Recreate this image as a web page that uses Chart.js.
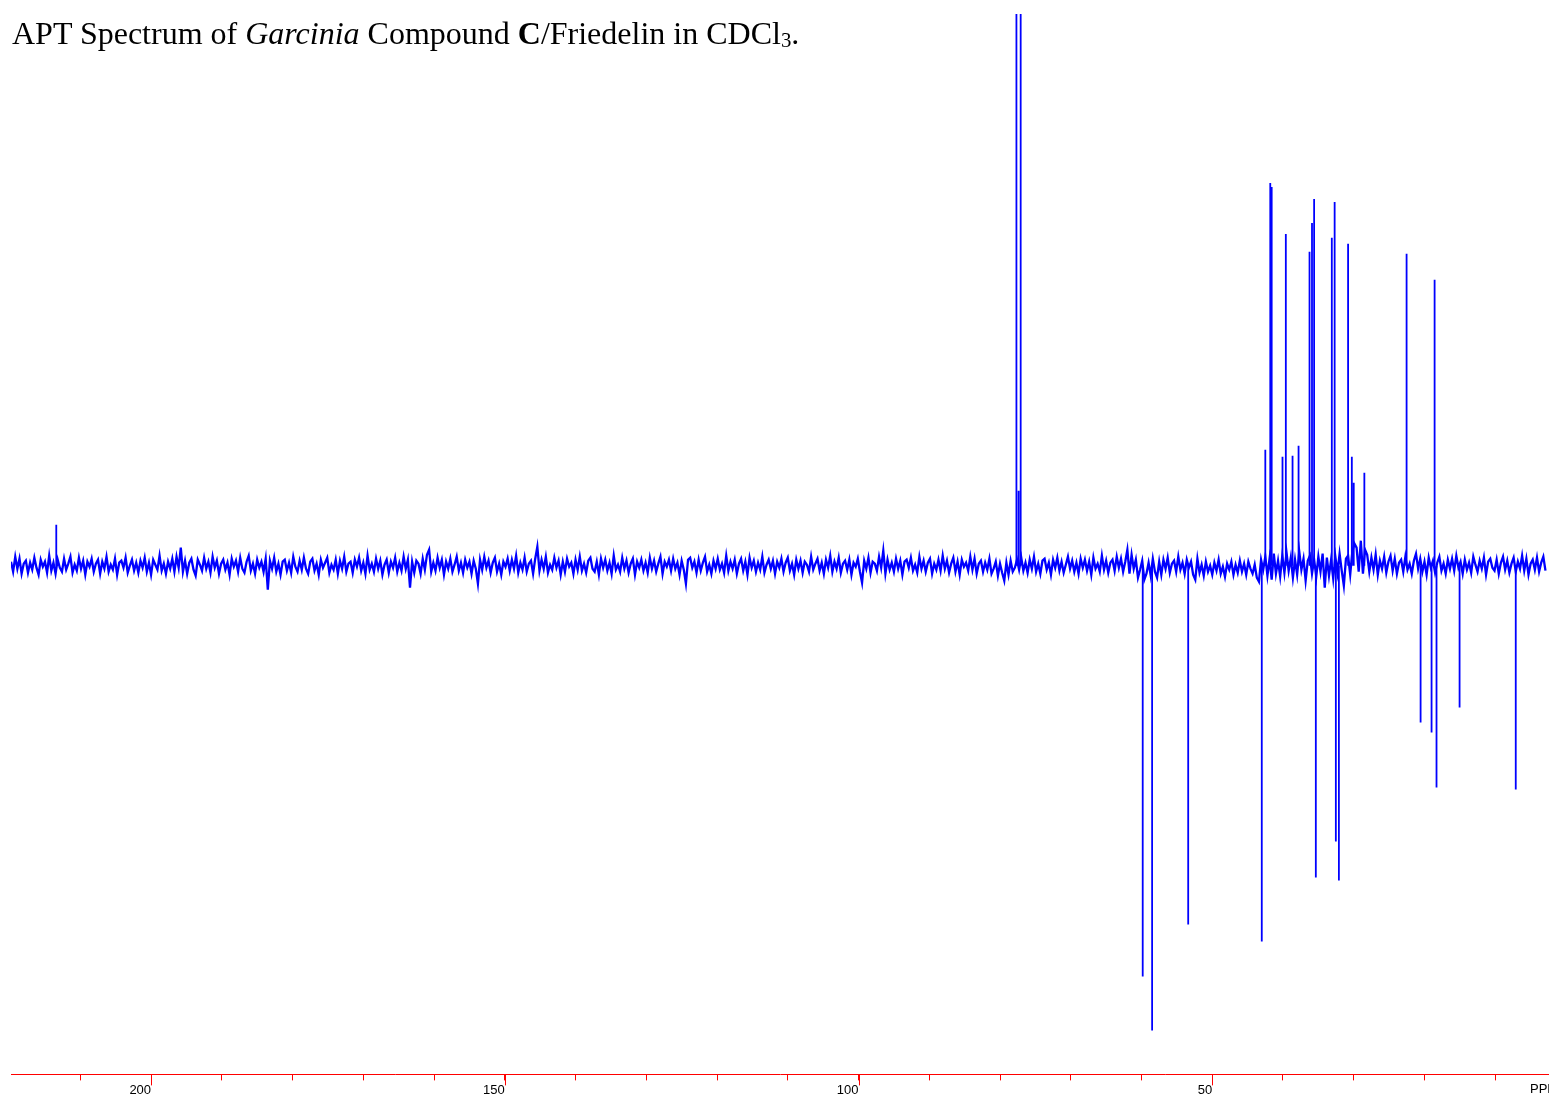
<!DOCTYPE html>
<html lang="en">
<head>
  <meta charset="UTF-8">
  <title>APT Spectrum of Garcinia Compound C/Friedelin in CDCl3</title>
  <script src="https://cdn.jsdelivr.net/npm/chart.js"></script>
  <style>
    body {
      margin: 0;
      background: #fff;
    }
    .wrap {
      position: relative;
      width: 1549px;
      height: 1100px;
    }
    canvas {
      position: absolute;
      left: 0;
      top: 0;
    }
    .title {
      position: absolute;
      left: 12px;
      top: 17px;
      font-family: 'Liberation Serif', 'Times New Roman', serif;
      font-size: 32px;
      line-height: 32px;
      color: #000;
      white-space: nowrap;
    }
    .title sub {
      font-size: 0.65em;
      vertical-align: -0.15em;
      line-height: 0;
    }
  </style>
</head>
<body>

  <div class="wrap">
    <canvas id="aptChart" width="1549" height="1100"></canvas>
    <div class="title">APT Spectrum of <i>Garcinia</i> Compound <b>C</b>/Friedelin in CDCl<sub>3</sub>.</div>
  </div>

  <script>
    // ppm scale (reversed)
    const ppmMin = 2.4;
    const ppmMax = 219.8;
    const tickLabels = [200, 150, 100, 50];

    // positive signals: C, CH2 and the CDCl3 triplet (runs off the top)
    const upPpm    = [213.4, 77.68, 77.37, 77.08, 42.5, 41.8, 41.6, 40.07, 39.6, 38.65, 37.8,
                      36.25, 35.9, 35.6, 33.1, 32.7, 30.8, 30.27, 30.0, 28.5, 22.53, 18.57];
    const upHeight = [41, 1600, 75, 1600, 116, 383, 379, 109, 332, 110, 120,
                      314, 343, 367, 328, 364, 322, 109, 83, 93, 312, 286];

    // negative signals: CH and CH3
    const downPpm    = [59.83, 58.5, 53.4, 43.0, 35.36, 32.53, 32.1, 20.55, 19.0, 18.3, 15.04, 7.1];
    const downHeight = [-411, -465, -359, -376, -312, -276, -315, -157, -167, -222, -142, -224];

    // baseline noise, one value every 0.3 ppm starting at 219.8 ppm
    const noiseStart = 219.8;
    const noiseStep = 0.3;
    const noise = [
      4, -6, 9, -3, 7, -8, 2, 5, -7, 3, -4, 8, -2, -9, 6, -1, 4, -7, 10, -5,
      3, -8, 6, -2, -6, 7, -4, 2, 9, -7, 1, -5, 8, -3, 5, -9, 4, -1, 7, -6,
      2, 6, -8, 4, -3, 9, -6, 1, -4, 7, -9, 3, 5, -2, 8, -7, 0, 6, -5, 3,
      -7, 5, -2, 8, -6, 3, -9, 6, 1, -4, 10, -5, 2, -8, 4, -3, 7, -6, 9, -2,
      18, -6, 5, -8, 3, 7, -4, -10, 6, 1, -5, 8, -3, 4, -7, 9, -2, 5, -8, 2,
      6, -4, 3, -9, 7, -1, 5, -6, 8, -3, -7, 4, 10, -5, 2, -8, 6, -2, 4, -6,
      7, -24, 5, -3, 8, -6, 2, -9, 4, 6, -5, 3, -7, 9, -1, -6, 5, -4, 8, -3,
      -8, 4, 7, -5, 2, -9, 6, -2, 3, 8, -7, 1, -4, 6, -8, 5, -3, 9, -6, 2,
      4, -7, 6, -1, 8, -5, 3, -8, 10, -4, 2, -6, 7, -3, 5, -9, 1, 6, -7, 4,
      -2, 8, -6, 3, -5, 9, -3, 6, -22, 4, -7, 5, 2, -8, 7, -4, 11, 16, -6, 3,
      -5, 8, -2, 6, -9, 4, -3, 7, -6, 1, 9, -5, 3, -7, 6, -2, 4, -8, 5, -3,
      -18, 6, -4, 9, -2, 5, -7, 3, 8, -6, 2, -9, 4, -1, 7, -5, 6, -3, 10, -7,
      3, -4, 8, -6, 2, 5, -8, 7, 19, -5, 6, -3, 9, -7, 1, -4, 8, -2, 5, -9,
      4, -6, 7, -1, 3, -8, 6, -4, 9, -5, 2, -7, 5, 8, -3, -6, 4, -9, 7, -2,
      6, -5, 3, -8, 10, -4, 1, -6, 8, -3, 5, -7, 2, 7, -9, 4, -2, 6, -5, 3,
      -7, 8, -3, 5, -6, 2, 9, -8, 4, -1, 6, -5, 7, -3, 3, -9, 5, -4, -18, 6,
      8, -2, 4, -7, 6, -5, 3, 9, -6, 1, -8, 5, -3, 7, -4, 2, -7, 10, -5, 4,
      -3, 6, -8, 2, 7, -5, 4, -9, 8, -2, 5, -6, 3, -4, 9, -7, 1, 6, -3, 5,
      -8, 4, -2, 7, -6, 3, 8, -5, 2, -9, 6, -3, 5, -7, 4, 1, -6, 9, -4, 2,
      7, -5, 3, -8, 6, -2, 10, -6, 4, -3, 8, -7, 2, 5, -4, 6, -9, 3, -1, 7,
      -6, -17, 5, -3, 8, -7, 4, 2, -5, 9, -2, 15, -8, 6, -4, 3, -6, 7, -3, 5,
      -9, 4, 6, -2, 8, -5, 1, -7, 9, -3, 5, -6, 3, 7, -8, 2, -4, 6, -5, 10,
      -3, 5, -7, 2, 8, -6, 4, -9, 6, -1, 3, -5, 9, -4, 7, -8, 2, 5, -6, 3,
      -4, 7, -8, -3, 4, -10, 2, -7, -15, 3, -9, 5, -6, -2, 6, -4, 8, -5, 3, -7,
      6, -3, 9, -6, 2, -8, 5, 7, -4, 3, -9, 6, -2, 8, -5, 4, -7, 1, 9, -3,
      5, -6, 3, -8, 7, -2, 6, -5, 4, -9, 8, -3, 2, -6, 10, -4, 5, -7, 3, 6,
      -5, 9, -2, 7, -6, 4, 16, -8, 11, -3, 6, -12, -4, 5, -14, -8, 3, -10, 7, -6,
      -12, 4, -9, 6, -3, 8, -7, 2, 5, -6, 9, -4, 3, -8, 6, -2, 4, -9, -14, 7,
      -7, 1, -10, 4, -6, 0, -9, 3, -5, 6, -8, -1, -11, 2, -4, 4, -9, 1, -7, 5,
      -6, 2, -9, 4, -3, -8, 1, -12, -16, 6, -4, 9, -10, 7, -14, 12, -8, 5, -11, 10,
      -7, 13, -5, 8, -12, 6, -9, 14, -4, 7, -15, 5, 10, -8, 6, -11, 9, -6, 12, -22,
      8, -10, 6, -13, 9, -7, 12, -5, -20, 7, 10, -9, 14, 22, 18, -6, 25, -8, 16, 11,
      -6, 8, -4, 11, -9, 5, -3, 9, -7, 4, 10, -5, 7, -8, 3, 6, -6, 9, -4, 2,
      -8, 5, 12, -3, 7, -6, 4, -9, 8, -2, 5, -7, 3, 9, -5, 2, -8, 6, -3, 7,
      -5, 10, -2, 4, -8, 6, -4, 3, -7, 9, 1, -6, 5, -3, 8, -9, 4, 7, -2, -5,
      6, -8, 3, 9, -4, 5, -7, 2, 8, -6, 4, -3, 10, -5, 7, -9, 2, 6, -4, 8,
      -6, 3, 9, -5
    ];

    // build the line data from the arrays above
    const noisePoints = noise.map((v, i) => ({ x: noiseStart - i * noiseStep, y: v }));

    function sticks(ppm, height) {
      const pts = [];
      ppm.forEach((p, i) => {
        pts.push({ x: p, y: 0 }, { x: p, y: height[i] }, { x: p, y: null });
      });
      return pts;
    }

    // longer red ticks at the labelled positions, plus the unit label
    const axisExtras = {
      id: 'axisExtras',
      afterDraw(chart) {
        const { ctx, chartArea, scales } = chart;
        const x = scales.x;
        ctx.save();
        ctx.strokeStyle = '#ff0000';
        ctx.lineWidth = 1;
        tickLabels.forEach(v => {
          const px = Math.round(x.getPixelForValue(v)) + 0.5;
          ctx.beginPath();
          ctx.moveTo(px, chartArea.bottom);
          ctx.lineTo(px, chartArea.bottom + 11);
          ctx.stroke();
        });
        ctx.fillStyle = '#000';
        ctx.font = '13px "Liberation Sans", Arial, sans-serif';
        ctx.textBaseline = 'middle';
        ctx.textAlign = 'left';
        ctx.fillText('PPM', chartArea.right - 19, chartArea.bottom + 8 + 7.5);
        ctx.restore();
      }
    };

    const ctx = document.getElementById('aptChart').getContext('2d');
    const aptChart = new Chart(ctx, {
      type: 'line',
      data: {
        datasets: [{
          label: 'noise',
          data: noisePoints,
          borderColor: '#0000ff',
          borderWidth: 2.3,
          pointRadius: 0,
          tension: 0
        }, {
          label: 'positive',
          data: sticks(upPpm, upHeight),
          borderColor: '#0000ff',
          borderWidth: 1.8,
          pointRadius: 0,
          tension: 0
        }, {
          label: 'negative',
          data: sticks(downPpm, downHeight),
          borderColor: '#0000ff',
          borderWidth: 1.8,
          pointRadius: 0,
          tension: 0
        }]
      },
      options: {
        responsive: false,
        animation: false,
        events: [],
        layout: {
          padding: { left: 11, right: 0, top: 14, bottom: 0 }
        },
        plugins: {
          legend: { display: false },
          tooltip: { enabled: false }
        },
        scales: {
          x: {
            type: 'linear',
            reverse: true,
            min: ppmMin,
            max: ppmMax,
            border: { color: '#ff0000', width: 1 },
            grid: {
              drawOnChartArea: false,
              drawTicks: true,
              tickLength: 6,
              tickColor: '#ff0000'
            },
            ticks: {
              stepSize: 10,
              includeBounds: false,
              autoSkip: false,
              maxRotation: 0,
              align: 'end',
              padding: 2,
              color: '#000',
              font: { family: "'Liberation Sans', Arial, sans-serif", size: 13 },
              callback: v => tickLabels.includes(v) ? String(v) : ''
            }
          },
          y: {
            display: false,
            min: -509,
            max: 552
          }
        }
      },
      plugins: [axisExtras]
    });
  </script>

</body>
</html>
